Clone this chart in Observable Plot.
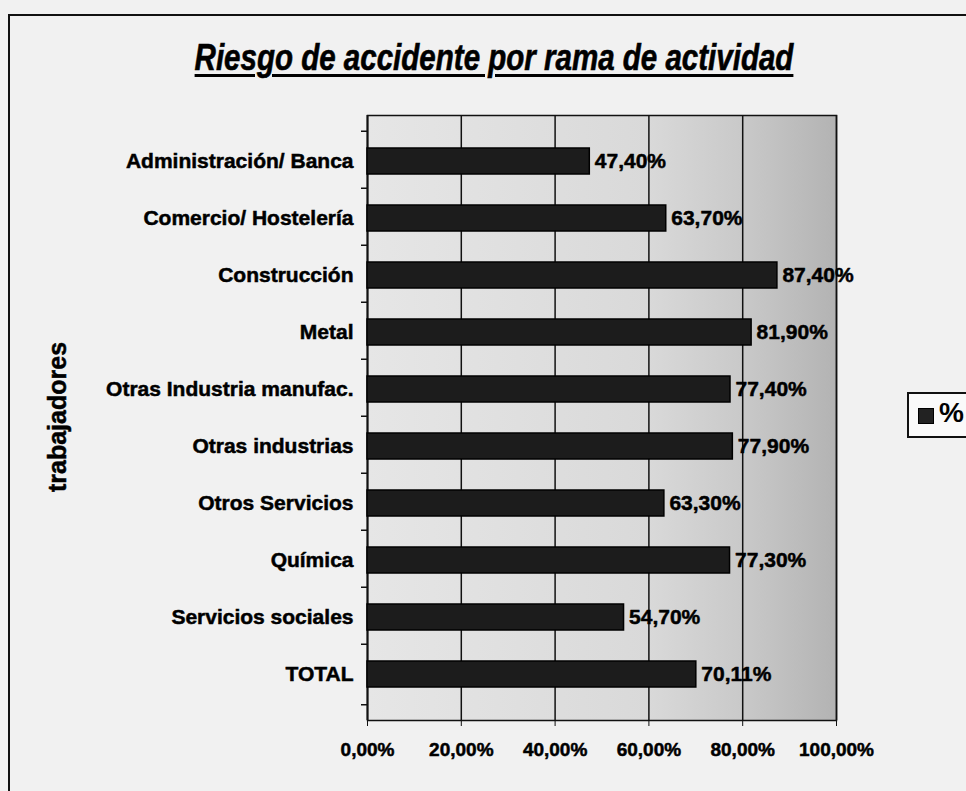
<!DOCTYPE html>
<html>
<head>
<meta charset="utf-8">
<script src="https://cdn.jsdelivr.net/npm/d3@7"></script>
<script src="https://cdn.jsdelivr.net/npm/@observablehq/plot@0.6"></script>
<style>
  html, body { margin: 0; padding: 0; background: #f1f1f1; }
  #wrap { position: relative; width: 966px; height: 791px; overflow: hidden; font-family: "Liberation Sans", Arial, sans-serif; }
  #border { position: absolute; left: 8px; top: 14px; width: 1000px; height: 800px; border-left: 2px solid #111; border-top: 2px solid #111; }
  #title { position: absolute; left: 494px; top: 37px; transform: translateX(-50%) scaleX(0.82); white-space: nowrap; font-family: "Liberation Sans", Arial, sans-serif; font-weight: bold; font-style: italic; text-decoration: underline; text-decoration-thickness: 3px; text-underline-offset: 4px; font-size: 36px; color: #000; -webkit-text-stroke: 0.6px #000; }
  #ylab { position: absolute; left: 57px; top: 417px; transform: translate(-50%, -50%) rotate(-90deg); white-space: nowrap; font-weight: bold; font-size: 25px; -webkit-text-stroke: 0.5px #000; }
  #legend { position: absolute; left: 907px; top: 392px; width: 80px; height: 42px; border: 2px solid #111; background: #fafafa; }
  #legend .sw { position: absolute; left: 9px; top: 14px; width: 14px; height: 14px; background: #222; border: 1px solid #000; }
  #legend .lb { position: absolute; left: 30px; top: 3px; font-weight: bold; font-size: 28px; }
  #chart { position: absolute; left: 0; top: 0; }
</style>
</head>
<body>
<div id="wrap">
  <div id="border"></div>
  <div id="title">Riesgo de accidente por rama de actividad</div>
  <div id="chart"></div>
  <div id="ylab"></div>
  <div id="legend"><div class="sw"></div><div class="lb">%</div></div>
</div>
<script>
const categories = ["Administración/ Banca", "Comercio/ Hostelería", "Construcción", "Metal", "Otras Industria manufac.", "Otras industrias", "Otros Servicios", "Química", "Servicios sociales", "TOTAL"];
const values = [0.474, 0.637, 0.874, 0.819, 0.774, 0.779, 0.633, 0.773, 0.547, 0.7011];
const xTicks = [0, 0.2, 0.4, 0.6, 0.8, 1.0];
const yAxisLabel = "trabajadores";

document.getElementById("ylab").textContent = yAxisLabel;

const data = categories.map((c, i) => ({cat: c, v: values[i]}));
const pct = d => (d * 100).toFixed(2).replace(".", ",") + "%";

const W = 966, H = 791, mL = 367, mR = 130, mT = 115, mB = 71;
const step = (H - mT - mB) / categories.length;

const chart = Plot.plot({
  width: W, height: H,
  marginLeft: mL, marginRight: mR, marginTop: mT, marginBottom: mB,
  style: {background: "transparent", fontFamily: "Liberation Sans, Arial, sans-serif", color: "#000"},
  x: {domain: [0, 1], ticks: xTicks, tickFormat: pct, label: null},
  y: {domain: categories, padding: 0.55, label: null},
  marks: [
    Plot.frame({fill: "url(#plotGrad)", stroke: "#111", strokeWidth: 1.5}),
    Plot.ruleX(xTicks.slice(1), {stroke: "#111", strokeWidth: 1.5}),
    Plot.ruleX([0], {stroke: "#111", strokeWidth: 2}),
    Plot.ruleY(categories, {y: d => d, x1: 0, x2: 0, insetLeft: -6, dy: -step / 2, stroke: "#111", strokeWidth: 1.5}),
    Plot.ruleY(categories.slice(-1), {y: d => d, x1: 0, x2: 0, insetLeft: -6, dy: step / 2, stroke: "#111", strokeWidth: 1.5}),
    Plot.barX(data, {y: "cat", x: "v", fill: "#1c1c1c", stroke: "#000", strokeWidth: 1.5}),
    Plot.text(data, {y: "cat", x: "v", text: d => pct(d.v), textAnchor: "start", dx: 5, fontSize: 21, fontWeight: "bold", fill: "#000", stroke: "#000", strokeWidth: 0.5}),
    Plot.axisX({ticks: xTicks, tickFormat: pct, tickSize: 6, tickPadding: 16, fontSize: 19, fontWeight: "bold", stroke: "#111"}),
    Plot.ruleY([0], {frameAnchor: "bottom", stroke: "#111", strokeWidth: 2}),
    Plot.axisY({tickSize: 0, tickPadding: 14, fontSize: 21, fontWeight: "bold"})
  ]
});

const defs = d3.select(chart).insert("defs", ":first-child");
const g = defs.append("linearGradient").attr("id", "plotGrad").attr("x1", "0").attr("x2", "1").attr("y1", "0").attr("y2", "0");
g.append("stop").attr("offset", "0%").attr("stop-color", "#e6e6e6");
g.append("stop").attr("offset", "60%").attr("stop-color", "#d9d9d9");
g.append("stop").attr("offset", "80%").attr("stop-color", "#c9c9c9");
g.append("stop").attr("offset", "100%").attr("stop-color", "#b3b3b3");

// heavier axis label glyphs, like the scanned print
d3.select(chart).selectAll("g[aria-label='y-axis tick label'] text, g[aria-label='x-axis tick label'] text")
  .attr("stroke", "#000").attr("stroke-width", 0.5);

document.getElementById("chart").appendChild(chart);
</script>
</body>
</html>
